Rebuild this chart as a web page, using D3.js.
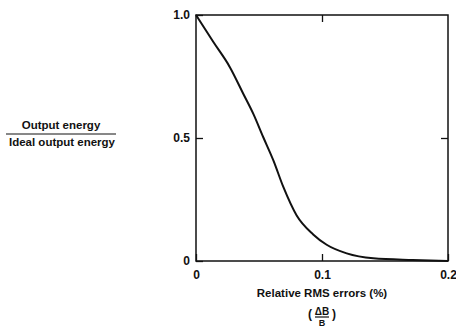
<!DOCTYPE html>
<html>
<head>
<meta charset="utf-8">
<script src="https://cdn.jsdelivr.net/npm/d3@7"></script>
<style>
  body { margin: 0; background: #fff; }
  text { font-family: "Liberation Sans Narrow", "Arial Narrow", "Liberation Sans", sans-serif; font-weight: bold; fill: #111; }
</style>
</head>
<body>
<div id="chart"></div>
<script>
let height = 327,
    width = 456,
    margin = ({ top: 15, right: 8, bottom: 66, left: 196 }); // plot box sits on the right

// curve
const errors = [0, 0.0138, 0.027, 0.0376, 0.0455, 0.0534, 0.0614, 0.0693, 0.0799, 0.093, 0.1037, 0.1196, 0.1407, 0.172, 0.2];
const energy = [1.0, 0.89, 0.787, 0.679, 0.598, 0.503, 0.409, 0.301, 0.185, 0.108, 0.066, 0.031, 0.011, 0.004, 0.0];
const xTicks = [0, 0.1, 0.2];
const xTickLabels = ["0", "0.1", "0.2"];
const yTicks = [0, 0.5, 1.0];
const yTickLabels = ["0", "0.5", "1.0"];

const svg = d3.select("#chart")
    .append("svg")
    .attr("width", width)
    .attr("height", height);

let x = d3.scaleLinear()
    .domain([0, 0.2])
    .range([margin.left, width - margin.right]);

let y = d3.scaleLinear()
    .domain([0, 1])
    .range([height - margin.bottom, margin.top]);

// frame
svg.append("rect")
    .attr("x", x(0))
    .attr("y", y(1))
    .attr("width", x(0.2) - x(0))
    .attr("height", y(0) - y(1))
    .attr("fill", "none")
    .attr("stroke", "#111")
    .attr("stroke-width", 1.5);

// inward ticks on all four sides
svg.append("g")
    .attr("transform", `translate(0,${y(0)})`)
    .call(d3.axisBottom(x).tickValues(xTicks).tickSize(-7).tickFormat((d, i) => xTickLabels[i]).tickPadding(9))
    .call(g => g.select(".domain").remove());

svg.append("g")
    .attr("transform", `translate(0,${y(1)})`)
    .call(d3.axisTop(x).tickValues([0.1]).tickSize(-7).tickFormat(""))
    .call(g => g.select(".domain").remove());

svg.append("g")
    .attr("transform", `translate(${x(0)},0)`)
    .call(d3.axisLeft(y).tickValues(yTicks).tickSize(-7).tickFormat((d, i) => yTickLabels[i]).tickPadding(6))
    .call(g => g.select(".domain").remove());

svg.append("g")
    .attr("transform", `translate(${x(0.2)},0)`)
    .call(d3.axisRight(y).tickValues([0.5]).tickSize(-7).tickFormat(""))
    .call(g => g.select(".domain").remove());

svg.selectAll(".tick line").attr("stroke", "#111").attr("stroke-width", 1.3);
svg.selectAll(".tick text").attr("font-size", 12).attr("font-family", null).attr("fill", "#111");

// the curve
const line = d3.line()
    .x((d, i) => x(errors[i]))
    .y(d => y(d))
    .curve(d3.curveMonotoneX);

svg.append("path")
    .datum(energy)
    .attr("d", line)
    .attr("fill", "none")
    .attr("stroke", "#111")
    .attr("stroke-width", 2);

// x axis title
const cx = x(0.1);
svg.append("text")
    .attr("x", cx)
    .attr("y", 297)
    .attr("text-anchor", "middle")
    .attr("font-size", 11.5)
    .text("Relative RMS errors (%)");

svg.append("text").attr("x", cx - 12).attr("y", 318).attr("text-anchor", "middle").attr("font-size", 12).text("(");
svg.append("text").attr("x", cx + 12).attr("y", 318).attr("text-anchor", "middle").attr("font-size", 12).text(")");
svg.append("text").attr("x", cx).attr("y", 315).attr("text-anchor", "middle").attr("font-size", 10).text("ΔB");
svg.append("line").attr("x1", cx - 7).attr("x2", cx + 7).attr("y1", 317).attr("y2", 317).attr("stroke", "#111").attr("stroke-width", 1.2);
svg.append("text").attr("x", cx).attr("y", 325.5).attr("text-anchor", "middle").attr("font-size", 9).text("B");

// y axis title as a fraction
svg.append("text")
    .attr("x", 61)
    .attr("y", 129)
    .attr("text-anchor", "middle")
    .attr("font-size", 11.5)
    .text("Output energy");

svg.append("line")
    .attr("x1", 6).attr("x2", 116)
    .attr("y1", 134).attr("y2", 134)
    .attr("stroke", "#111").attr("stroke-width", 1);

svg.append("text")
    .attr("x", 62)
    .attr("y", 146)
    .attr("text-anchor", "middle")
    .attr("font-size", 11.5)
    .text("Ideal output energy");
</script>
</body>
</html>
